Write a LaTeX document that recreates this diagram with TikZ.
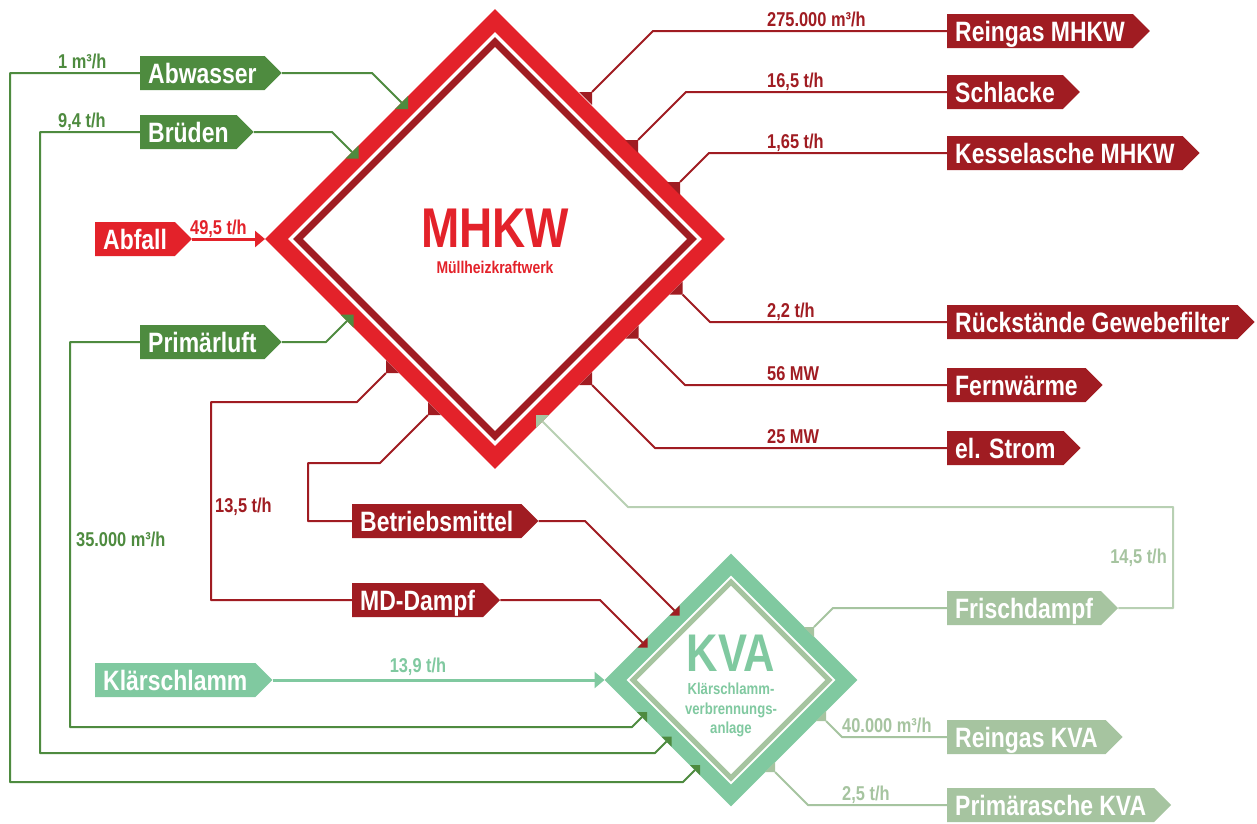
\documentclass[tikz,border=0pt]{standalone}
\usepackage{fontspec}
\setmainfont{Liberation Sans}[FakeStretch=0.82]
\usetikzlibrary{shapes.symbols,arrows.meta}

\definecolor{mred}{HTML}{E3222A}
\definecolor{dred}{HTML}{A01C22}
\definecolor{dgreen}{HTML}{4E8B3F}
\definecolor{mint}{HTML}{80C9A0}
\definecolor{sage}{HTML}{A6C4A0}

\newcommand\tabout[5]{\fill[#5] (#1) -- ++({-(#2)*(#4)},0) -- ++({(#2)*(#4)},{-(#3)*(#4)}) -- cycle;}
\newcommand\tabin[5]{\fill[#5] (#1) ++({-(#2)*(#4)/2},{-(#3)*(#4)/2}) -- ++({(#2)*(#4)},0) -- ++({-(#2)*(#4)},{(#3)*(#4)}) -- cycle;}

\begin{document}
\begin{tikzpicture}[
		x = 1pt,
		y = -1pt,
		line join = round,
		> = {Triangle[length=10pt,width=16pt]},
		box/.style = {signal, signal to=east, fill=#1, text=white, anchor=west,
			font=\fontsize{28}{30}\selectfont\bfseries,
			text height=20pt, text depth=0pt, inner xsep=8pt, inner ysep=7pt},
		val/.style = {text=#1, font=\fontsize{20}{22}\selectfont\bfseries, inner sep=0pt},
		flow/.style = {draw=#1, line width=2pt},
		]
\fill[white] (0,0) rectangle (1257,823);
\useasboundingbox (0,0) rectangle (1257,823);

\draw[mred, line width=16pt, line join=miter]	(495,20.5) -- (713.5,239) -- (495,457.5) -- (276.5,239) -- cycle;
\draw[dred, line width=7pt, line join=miter]	(495,42) -- (692,239) -- (495,436) -- (298,239) -- cycle;
\draw[mint, line width=15.5pt, line join=miter]	(731,564.5) -- (846.5,680) -- (731,795.5) -- (615.5,680) -- cycle;
\draw[sage, line width=5pt, line join=miter]	(731,582) -- (829,680) -- (731,778) -- (633,680) -- cycle;

\node[text=mred, inner sep=0pt, font=\fontsize{56}{56}\selectfont\bfseries]	(mhkw) at (495,228) {MHKW};
\node[text=mred, inner sep=0pt, font=\fontsize{17}{19}\selectfont\bfseries]	(mhkwsub) at (495,267) {Müllheizkraftwerk};
\node[text=mint, inner sep=0pt, font=\fontsize{53}{53}\selectfont\bfseries]	(kva) at (731,653) {KVA};
\node[text=mint, inner sep=0pt, font=\fontsize{16}{19.5}\selectfont\bfseries, align=center]	(kvasub) at (731,710) {Klärschlamm-\\verbrennungs-\\anlage};

\coordinate (m-abw) at (401.5,102.5);
\coordinate (m-bru) at (352,152);
\coordinate (m-abf) at (265,239);
\coordinate (m-pri) at (347,321);
\coordinate (m-rgm) at (592,92);
\coordinate (m-sch) at (638,140);
\coordinate (m-kes) at (680,182);
\coordinate (m-rgf) at (682.5,294.5);
\coordinate (m-fw)  at (638.5,338.5);
\coordinate (m-str) at (592,385);
\coordinate (m-fd)  at (542.5,421.5);
\coordinate (m-btm) at (428,415);
\coordinate (m-mdd) at (386,373);
\coordinate (k-btm) at (674.5,610.5);
\coordinate (k-mdd) at (642.5,642.5);
\coordinate (k-kls) at (604.5,680);
\coordinate (k-pri) at (642,717);
\coordinate (k-bru) at (666.5,741.5);
\coordinate (k-abw) at (695,770);
\coordinate (k-fd)  at (814,627);
\coordinate (k-rgk) at (826,721);
\coordinate (k-pak) at (775,772);

\tabin{m-abw}{-1}{-1}{13}{dgreen}
\tabin{m-bru}{-1}{-1}{13}{dgreen}
\tabin{m-pri}{-1}{1}{13}{dgreen}
\tabin{m-fd}{1}{1}{13}{sage}
\tabout{m-rgm}{1}{-1}{13}{dred}
\tabout{m-sch}{1}{-1}{13}{dred}
\tabout{m-kes}{1}{-1}{13}{dred}
\tabout{m-rgf}{1}{1}{13}{dred}
\tabout{m-fw}{1}{1}{13}{dred}
\tabout{m-str}{1}{1}{13}{dred}
\tabout{m-btm}{-1}{1}{13}{dred}
\tabout{m-mdd}{-1}{1}{13}{dred}
\tabin{k-btm}{-1}{-1}{10}{dred}
\tabin{k-mdd}{-1}{-1}{10}{dred}
\tabin{k-pri}{-1}{1}{10}{dgreen}
\tabin{k-bru}{-1}{1}{10}{dgreen}
\tabin{k-abw}{-1}{1}{10}{dgreen}
\tabout{k-fd}{1}{-1}{10}{sage}
\tabout{k-rgk}{1}{1}{10}{sage}
\tabout{k-pak}{1}{1}{10}{sage}

\node[box=dgreen]	(abw) at (140,73)	{Abwasser};
\node[box=dgreen]	(bru) at (140,132)	{Brüden};
\node[box=mred]		(abf) at (95,239)	{Abfall};
\node[box=dgreen]	(pri) at (140,342)	{Primärluft};
\node[box=dred]		(btm) at (352,521)	{Betriebsmittel};
\node[box=dred]		(mdd) at (352,600)	{MD-Dampf};
\node[box=mint]		(kls) at (95,680)	{Klärschlamm};
\node[box=dred]		(rgm) at (947,31)	{Reingas MHKW};
\node[box=dred]		(sch) at (947,92)	{Schlacke};
\node[box=dred]		(kes) at (947,153)	{Kesselasche MHKW};
\node[box=dred]		(rgf) at (947,322)	{Rückstände Gewebefilter};
\node[box=dred]		(fw)  at (947,385)	{Fernwärme};
\node[box=dred]		(str) at (947,448)	{el. Strom};
\node[box=sage]		(fd)  at (947,608)	{Frischdampf};
\node[box=sage]		(rgk) at (947,737)	{Reingas KVA};
\node[box=sage]		(pak) at (947,805)	{Primärasche KVA};

\draw[flow=dgreen]	(abw.east) -- (372,73) -- (m-abw);
\draw[flow=dgreen]	(abw.west) -- (10,73) -- (10,782) -- (683,782) -- (k-abw);
\draw[flow=dgreen]	(bru.east) -- (332,132) -- (m-bru);
\draw[flow=dgreen]	(bru.west) -- (40,132) -- (40,753) -- (655,753) -- (k-bru);
\draw[flow=dgreen]	(pri.east) -- (326,342) -- (m-pri);
\draw[flow=dgreen]	(pri.west) -- (70,342) -- (70,727) -- (632,727) -- (k-pri);
\draw[flow=mred, line width=3pt, ->]	(abf.east) -- (m-abf);
\draw[flow=mint, line width=3pt, ->]	(kls.east) -- (k-kls);

\draw[flow=dred]	(m-rgm) -- (653,31) -- (rgm.west);
\draw[flow=dred]	(m-sch) -- (686,92) -- (sch.west);
\draw[flow=dred]	(m-kes) -- (709,153) -- (kes.west);
\draw[flow=dred]	(m-rgf) -- (710,322) -- (rgf.west);
\draw[flow=dred]	(m-fw) -- (685,385) -- (fw.west);
\draw[flow=dred]	(m-str) -- (655,448) -- (str.west);
\draw[flow=dred]	(m-btm) -- (380,463) -- (308,463) -- (308,521) -- (btm.west);
\draw[flow=dred]	(m-mdd) -- (357,402) -- (211,402) -- (211,600) -- (mdd.west);
\draw[flow=dred]	(btm.east) -- (585,521) -- (k-btm);
\draw[flow=dred]	(mdd.east) -- (600,600) -- (k-mdd);

\draw[flow=sage]	(k-fd) -- (833,608) -- (fd.west);
\draw[flow=sage!80]	(fd.east) -- (1173,608) -- (1173,507) -- (628,507) -- (m-fd);
\draw[flow=sage]	(k-rgk) -- (842,737) -- (rgk.west);
\draw[flow=sage]	(k-pak) -- (808,805) -- (pak.west);

\node[val=dgreen, anchor=base west]	(v-abw) at (58,68)	{1 m³/h};
\node[val=dgreen, anchor=base west]	(v-bru) at (58,127)	{9,4 t/h};
\node[val=dgreen, anchor=base west]	(v-pri) at (76,546)	{35.000 m³/h};
\node[val=mred, anchor=base west]	(v-abf) at (190,234)	{49,5 t/h};
\node[val=dred, anchor=base west]	(v-mdd) at (215,512)	{13,5 t/h};
\node[val=mint, anchor=base]		(v-kls) at (418,672)	{13,9 t/h};
\node[val=dred, anchor=base west]	(v-rgm) at (767,26)	{275.000 m³/h};
\node[val=dred, anchor=base west]	(v-sch) at (767,87)	{16,5 t/h};
\node[val=dred, anchor=base west]	(v-kes) at (767,148)	{1,65 t/h};
\node[val=dred, anchor=base west]	(v-rgf) at (767,317)	{2,2 t/h};
\node[val=dred, anchor=base west]	(v-fw)  at (767,380)	{56 MW};
\node[val=dred, anchor=base west]	(v-str) at (767,443)	{25 MW};
\node[val=sage, anchor=base east]	(v-fd)  at (1167,563)	{14,5 t/h};
\node[val=sage, anchor=base west]	(v-rgk) at (842,732)	{40.000 m³/h};
\node[val=sage, anchor=base west]	(v-pak) at (842,800)	{2,5 t/h};
\end{tikzpicture}
\end{document}
